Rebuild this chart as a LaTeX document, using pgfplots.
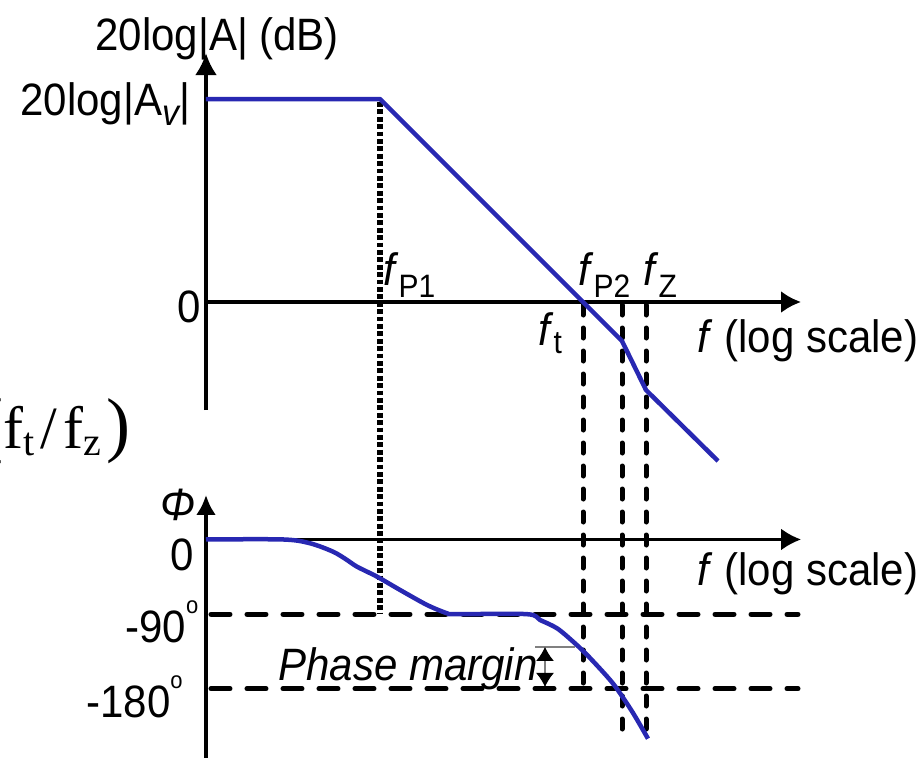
\documentclass[border=0pt]{standalone}
\usepackage{pgfplots}
\pgfplotsset{compat=1.18}
\usetikzlibrary{arrows.meta}
\usepackage{fontspec}
\setmainfont{Liberation Sans}
\newfontfamily\serif{Liberation Serif}

\definecolor{curve}{RGB}{40,40,178}

% Magnitude response (x: decades from the left edge, y: dB)
\pgfplotstableread{
x      db
0      40.6
1.74   40.6
3.77   0
4.16   -7.8
4.40   -17.6
5.12   -31.8
}\magtable

% Phase response (x: decades, y: degrees)
\pgfplotstableread{
x      ph
0      0
0.77   0
1.04   -4.6
1.27   -14.7
1.41   -24.7
1.51   -32.8
1.71   -44.8
1.94   -60.8
2.21   -78.9
2.41   -88.9
2.50   -90
3.21   -90
3.34   -97
3.51   -107
3.67   -123
3.81   -139
4.01   -165
4.11   -180
4.27   -209
4.42   -240
}\phtable

\newcommand\lbl{\fontsize{21}{25}\selectfont}
\newcommand\tall[1]{\scalebox{1}[1.08]{#1}}
\newcommand\sub[2]{\raisebox{-#1}{\fontsize{15}{15}\selectfont #2}}
\newcommand\degmark{\raisebox{0.62em}{\fontsize{11}{11}\selectfont o}}

\pgfplotsset{
  guideH/.style={black, line width=2.5pt, line cap=round, dash pattern=on 9.5pt off 8.5pt, forget plot},
  guideV/.style={black, line width=2.5pt, line cap=round, dash pattern=on 5pt off 6.5pt, forget plot},
  guideDot/.style={black, line width=2.6pt, line cap=butt, dash pattern=on 2.4pt off 1.3pt, forget plot},
}

\begin{document}
\begin{tikzpicture}
\useasboundingbox (0,0) rectangle (459pt,-381pt);
\clip (0,0) rectangle (459pt,-381pt);

% ---------------- magnitude plot ----------------
% the guide lines run down into the phase plot below:
% -62.42 dB sits level with -90 deg, -77.36 dB with -180 deg, -87.65 dB with -242 deg
\begin{axis}[
  at={(103pt,-206pt)}, anchor=south west,
  x=50pt, y=2.5pt,
  xmin=0, xmax=6.2, ymin=-22, ymax=51,
  hide axis, clip=false,
]
\addplot[guideDot] coordinates {(1.74,40.0) (1.74,-62.42)};
\addplot[guideV] coordinates {(3.77,-0.6) (3.77,-77.36)};
\addplot[guideV] coordinates {(4.16,-0.6) (4.16,-87.65)};
\addplot[guideV] coordinates {(4.40,-0.6) (4.40,-87.65)};
\draw[black, line width=2pt, -{Latex[length=11pt,width=11pt]}] (axis cs:0,-21.6) -- (axis cs:0,49.8);
\draw[black, line width=1.6pt, -{Latex[length=10pt,width=11pt]}] (axis cs:0,0) -- (axis cs:5.95,0);
\addplot[curve, line width=2.25pt, line join=round] table[x=x, y=db] {\magtable};
\end{axis}

% ---------------- phase plot ----------------
\begin{axis}[
  at={(103pt,-379.7pt)}, anchor=south west,
  x=50pt, y=0.415pt,
  xmin=0, xmax=6.2, ymin=-265, ymax=60,
  hide axis, clip=false,
]
\addplot[guideH] coordinates {(0.05,-90) (5.92,-90)};
\addplot[guideH] coordinates {(0.05,-180) (5.92,-180)};
\draw[black, line width=2pt, -{Latex[length=10pt,width=10pt]}] (axis cs:0,-263) -- (axis cs:0,53.6);
\draw[black, line width=1.3pt, -{Latex[length=10pt,width=11pt]}] (axis cs:0,0) -- (axis cs:5.95,0);
\addplot[curve, line width=2.25pt, smooth, tension=0.5] table[x=x, y=ph] {\phtable};
% phase margin marker
\draw[gray, line width=0.6pt] (axis cs:3.29,-129.5) -- (axis cs:3.69,-129.5);
\draw[gray, line width=0.6pt,
  {Latex[length=7pt,width=9pt,color=black]}-{Latex[length=7pt,width=9pt,color=black]}]
  (axis cs:3.39,-129.5) -- (axis cs:3.39,-177.7);
\end{axis}

% ---------------- labels ----------------
\begin{scope}[x=0.5pt, y=-0.5pt]
\node[anchor=base west, inner sep=0] at (95,50) {\lbl\tall{20log|A| (dB)}};
\node[anchor=base west, inner sep=0] at (20,115) {\lbl\tall{20log|A\raisebox{-5pt}{\fontsize{17}{17}\selectfont\itshape v}|}};
\node[anchor=base east, inner sep=0] at (201,322) {\lbl\tall{0}};
\node[anchor=base west, inner sep=0] at (383,285) {\lbl\tall{\textit{f}\sub{6pt}{P1}}};
\node[anchor=base west, inner sep=0] at (578,285) {\lbl\tall{\textit{f}\sub{6pt}{P2}}};
\node[anchor=base west, inner sep=0] at (643,285) {\lbl\tall{\textit{f}\sub{6pt}{Z}}};
\node[anchor=base west, inner sep=0] at (538,345) {\lbl\tall{\textit{f}\sub{4pt}{t}}};
\node[anchor=base west, inner sep=0] at (697,352) {\lbl\tall{\textit{f} (log scale)}};
\node[anchor=base west, inner sep=0] at (697,585) {\lbl\tall{\textit{f} (log scale)}};
\node[anchor=base west, inner sep=0] at (160,520) {\lbl\tall{\textit{Φ}}};
\node[anchor=base east, inner sep=0] at (194,570) {\lbl\tall{0}};
\node[anchor=base west, inner sep=0] at (125,642) {\lbl\tall{-90\degmark}};
\node[anchor=base west, inner sep=0] at (86,717) {\lbl\tall{-180\degmark}};
\node[anchor=base west, inner sep=0] at (278,680) {\lbl\tall{\textit{Phase margin}}};
\node[anchor=base west, inner sep=0] at (-21,448) {\serif\fontsize{30}{36}\selectfont
  {\fontsize{36}{36}\selectfont(}f\raisebox{-3.5pt}{\fontsize{20}{20}\selectfont t}\hspace{3pt}/\hspace{3pt}f\raisebox{-3.5pt}{\fontsize{20}{20}\selectfont z}\hspace{3pt}{\fontsize{36}{36}\selectfont)}};
\end{scope}
\end{tikzpicture}
\end{document}
